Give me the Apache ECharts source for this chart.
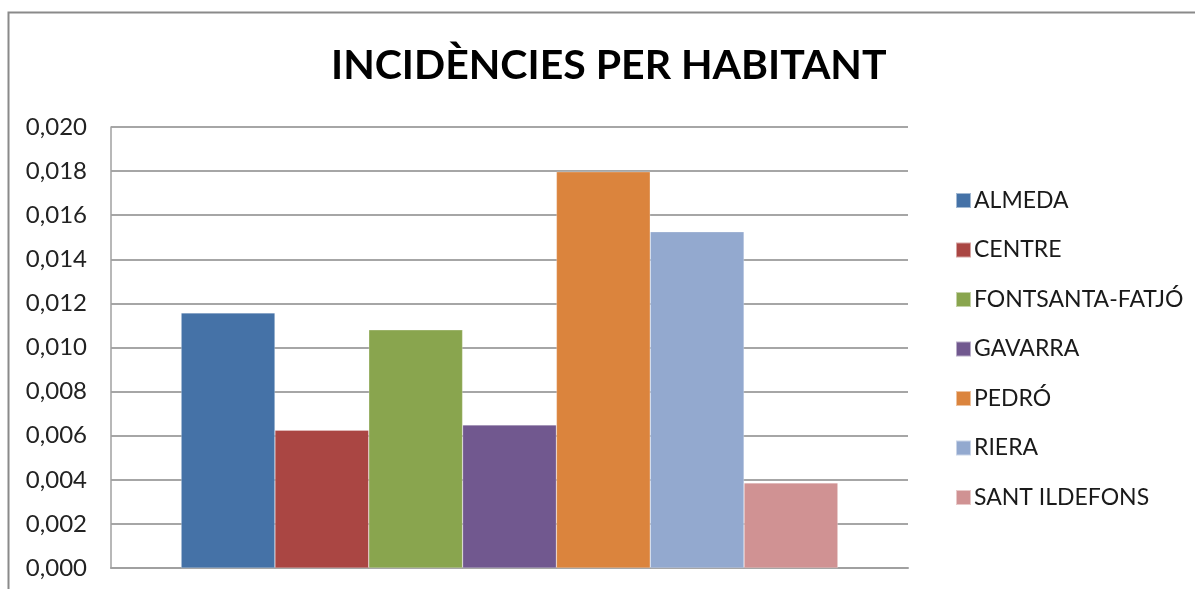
<!DOCTYPE html>
<html><head><meta charset="utf-8">
<script src="https://cdn.jsdelivr.net/npm/echarts@6/dist/echarts.min.js"></script>
<style>html,body{margin:0;padding:0;background:#fff}#c{width:1195px;height:589px}</style>
</head><body><div id="c"></div>
<script>
const title = 'INCIDÈNCIES PER HABITANT';
const category = [''];
const seriesNames = ['ALMEDA','CENTRE','FONTSANTA-FATJÓ','GAVARRA','PEDRÓ','RIERA','SANT ILDEFONS'];
const seriesValues = [0.01157, 0.00625, 0.01080, 0.00649, 0.01797, 0.01525, 0.00386];
const colors = ['#4572A7','#AA4643','#89A54E','#71588F','#DB843D','#93A9CF','#D09293'];
const yMin = 0, yMax = 0.020, yInterval = 0.002;

const chart = echarts.init(document.getElementById('c'));
const font = 'Lato, "Open Sans", sans-serif';
chart.setOption({
  animation:false,
  color: colors,
  title:{text:title,left:331,top:45,textStyle:{fontFamily:font,fontWeight:'bold',fontSize:41,color:'#000'},padding:0},
  graphic:[{type:'rect',shape:{x:8.5,y:12.5,width:1300,height:700},style:{fill:null,stroke:'#8a8a8a',lineWidth:2},z:-1,silent:true}],
  legend:{orient:'vertical',left:950,top:184,itemWidth:15,itemHeight:15,itemGap:26.5,icon:'rect',
    textStyle:{fontFamily:font,fontSize:23,color:'#1a1a1a',padding:[0,0,0,-2]},data:seriesNames},
  grid:{left:111,right:287,top:127,bottom:21,containLabel:false},
  xAxis:{type:'category',data:category,axisTick:{show:false},axisLabel:{show:false},
    axisLine:{lineStyle:{color:'#a0a0a0',width:2}}},
  yAxis:{type:'value',min:yMin,max:yMax,interval:yInterval,
    axisLine:{show:true,lineStyle:{color:'#a0a0a0',width:1.5}},axisTick:{show:false},
    splitLine:{lineStyle:{color:'#a6a6a6',width:2}},
    axisLabel:{margin:24,fontFamily:font,fontSize:24,color:'#222',formatter:v=>v.toFixed(3).replace('.',',')}},
  series: seriesNames.map((n,i)=>({name:n,type:'bar',data:[seriesValues[i]],barGap:'0%',barCategoryGap:'17.6%',
    itemStyle:{color:colors[i],borderColor:'rgba(255,255,255,0.5)',borderWidth:0.5}}))
});
</script></body></html>
